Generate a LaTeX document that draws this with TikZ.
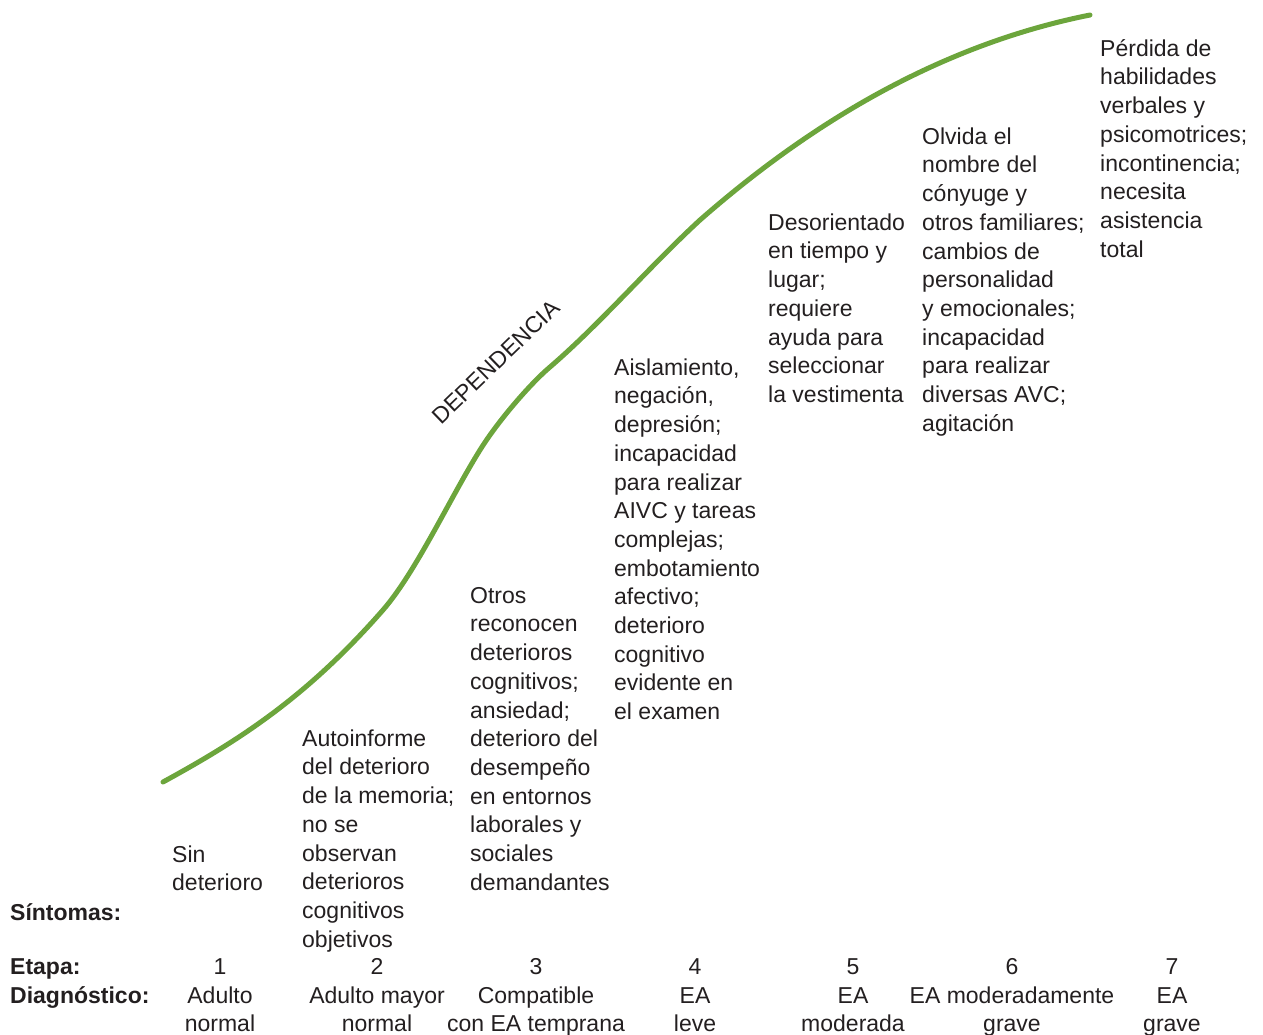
\documentclass[tikz,border=0pt]{standalone}
\usepackage{fontspec}
\setmainfont{Liberation Sans}
\definecolor{curvegreen}{RGB}{108,165,60}
\definecolor{ink}{RGB}{35,31,32}
\begin{document}
\begin{tikzpicture}[x=1pt,y=-1pt,
  txt/.style={font=\fontsize{23}{28.7}\selectfont, text=ink, inner sep=0pt, align=left, anchor=north west},
  ctxt/.style={font=\fontsize{23}{28.7}\selectfont, text=ink, inner sep=0pt, align=center, anchor=north},
  lbl/.style={font=\fontsize{23}{28.7}\selectfont\bfseries, text=ink, inner sep=0pt, align=left, anchor=north west},
  curve/.style={draw=curvegreen, line width=5pt, line cap=round}]
\useasboundingbox (0,0) rectangle (1263,1035);
% curve
\coordinate (p0) at (163,782);
\coordinate (p1) at (383,610);
\coordinate (p2) at (480,450);
\coordinate (p3) at (550,367);
\coordinate (p4) at (700,220);
\coordinate (p5) at (1090,15);
\draw[curve] (p0) .. controls (238,741) and (306,698) .. (p1)
  .. controls (416,572) and (450,498) .. (p2)
  .. controls (498,421) and (530,384) .. (p3)
  .. controls (600,324) and (650,266) .. (p4)
  .. controls (830,106) and (960,41) .. (p5);
\node[font=\fontsize{23}{28.7}\selectfont, text=ink, inner sep=0pt, rotate=44] (dep) at (496,362) {DEPENDENCIA};
% symptom columns
\node[txt] (s1) at (172,842) {\strut Sin\\deterioro};
\node[txt] (s2) at (302,726) {\strut Autoinforme\\del deterioro\\de la memoria;\\no se\\observan\\deterioros\\cognitivos\\objetivos};
\node[txt] (s3) at (470,583) {\strut Otros\\reconocen\\deterioros\\cognitivos;\\ansiedad;\\deterioro del\\desempeño\\en entornos\\laborales y\\sociales\\demandantes};
\node[txt] (s4) at (614,355) {\strut Aislamiento,\\negación,\\depresión;\\incapacidad\\para realizar\\AIVC y tareas\\complejas;\\embotamiento\\afectivo;\\deterioro\\cognitivo\\evidente en\\el examen};
\node[txt] (s5) at (768,210) {\strut Desorientado\\en tiempo y\\lugar;\\requiere\\ayuda para\\seleccionar\\la vestimenta};
\node[txt] (s6) at (922,124) {\strut Olvida el\\nombre del\\cónyuge y\\otros familiares;\\cambios de\\personalidad\\y emocionales;\\incapacidad\\para realizar\\diversas AVC;\\agitación};
\node[txt] (s7) at (1100,36) {\strut Pérdida de\\habilidades\\verbales y\\psicomotrices;\\incontinencia;\\necesita\\asistencia\\total};
% row labels
\node[lbl] (lsin) at (10,900) {\strut Síntomas:};
\node[lbl] (ldiag) at (10,954) {\strut Etapa:\\Diagnóstico:};
% stages
\node[ctxt] (e1) at (220,954) {\strut 1\\Adulto\\normal};
\node[ctxt] (e2) at (377,954) {\strut 2\\Adulto mayor\\normal};
\node[ctxt] (e3) at (536,954) {\strut 3\\Compatible\\con EA temprana};
\node[ctxt] (e4) at (695,954) {\strut 4\\EA\\leve};
\node[ctxt] (e5) at (853,954) {\strut 5\\EA\\moderada};
\node[ctxt] (e6) at (1012,954) {\strut 6\\EA moderadamente\\grave};
\node[ctxt] (e7) at (1172,954) {\strut 7\\EA\\grave};
\end{tikzpicture}
\end{document}
